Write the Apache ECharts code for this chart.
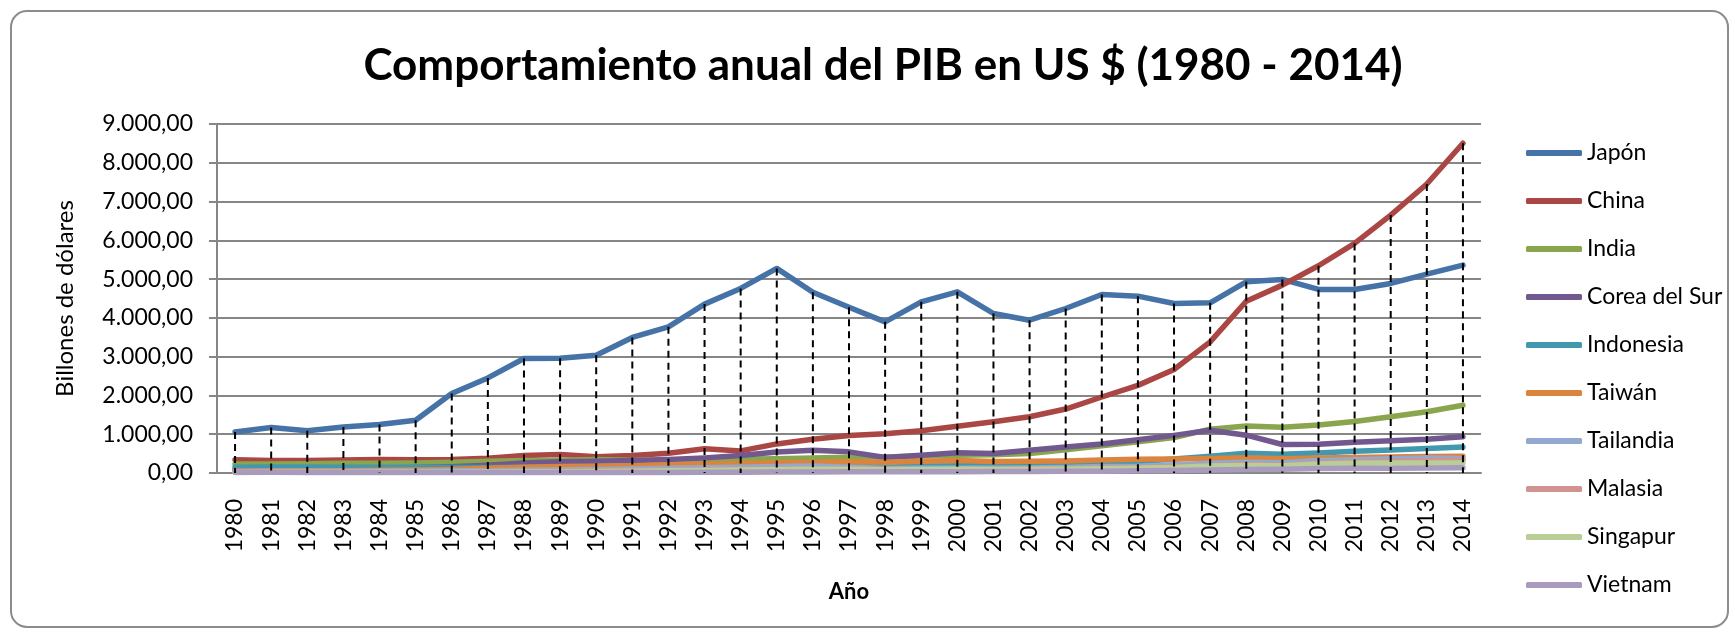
<!DOCTYPE html>
<html><head><meta charset="utf-8">
<script src="https://cdn.jsdelivr.net/npm/echarts@6/dist/echarts.min.js"></script>
<style>html,body{margin:0;padding:0;background:#fff}#c{width:1735px;height:632px}</style>
</head><body><div id="c"></div>
<script>
const years = ['1980','1981','1982','1983','1984','1985','1986','1987','1988','1989','1990','1991','1992','1993','1994','1995','1996','1997','1998','1999','2000','2001','2002','2003','2004','2005','2006','2007','2008','2009','2010','2011','2012','2013','2014'];
const japon     = [1059,1171,1090,1188,1250,1360,2050,2452,2953,2960,3038,3495,3769,4355,4760,5276,4660,4275,3898,4414,4672,4113,3941,4242,4603,4560,4371,4388,4931,4991,4733,4733,4888,5129,5361];
const china     = [340,325,320,335,345,340,345,380,450,480,420,450,510,625,570,750,870,965,1010,1090,1205,1320,1450,1650,1960,2260,2670,3380,4430,4845,5344,5921,6652,7452,8503];
const india     = [230,235,240,250,250,260,275,300,320,330,350,330,330,340,360,370,390,405,415,440,455,470,500,600,700,805,915,1130,1210,1180,1240,1330,1450,1580,1747];
const corea     = [90,100,110,120,130,140,160,200,260,290,300,320,350,390,450,540,585,545,400,460,525,505,585,670,750,860,970,1100,975,735,740,790,830,870,935];
const indonesia = [150,155,155,150,150,150,145,145,150,160,170,180,190,200,210,230,250,240,150,180,190,185,210,240,260,290,360,430,510,485,515,560,590,630,670];
const taiwan    = [50,55,55,60,70,75,90,120,150,170,175,190,215,225,245,265,280,290,275,300,320,295,300,310,335,355,360,375,395,365,385,400,415,425,435];
const tailandia = [40,42,45,48,50,52,55,60,70,80,90,105,120,135,150,170,180,150,115,125,125,120,130,145,165,175,210,250,275,265,320,340,365,385,375];
const malasia   = [30,32,33,35,38,38,35,38,42,48,55,62,70,80,90,100,105,100,75,80,95,92,100,110,125,140,160,190,220,200,250,280,300,315,330];
const singapur  = [15,18,20,22,24,23,23,25,30,35,40,48,55,65,80,90,95,98,85,88,95,90,92,98,112,125,145,180,195,190,235,250,255,260,260];
const vietnam   = [20,18,15,12,10,10,12,14,12,10,10,12,15,18,20,25,28,30,30,32,35,36,38,42,48,55,65,75,90,95,115,120,125,130,135];

const names  = ['Japón','China','India','Corea del Sur','Indonesia','Taiwán','Tailandia','Malasia','Singapur','Vietnam'];
const values = [japon,china,india,corea,indonesia,taiwan,tailandia,malasia,singapur,vietnam];
const colors = ['#4572A7','#AA4643','#89A54E','#71588F','#4198AF','#DB843D','#93A9CF','#D19392','#B9CD96','#A99BBD'];

const dropData = years.map((y,i)=>[i, Math.max(...values.map(v=>v[i]))]);

function fmt(v){
  const s = v.toFixed(2).split('.');
  return s[0].replace(/\B(?=(\d{3})+(?!\d))/g,'.') + ',' + s[1];
}

const FONT = 'Lato, "Open Sans", sans-serif';
const chart = echarts.init(document.getElementById('c'), null, {renderer:'canvas'});

const series = names.map((n,k)=>({
  name:n, type:'line', data:values[k], showSymbol:false, symbol:'none',
  lineStyle:{width:5.5, color:colors[k], cap:'round', join:'round'},
  itemStyle:{color:colors[k]}, z:2, animation:false
}));
series.push({
  type:'custom', name:'drop', data:dropData, z:5, silent:true, animation:false,
  encode:{x:0,y:1},
  renderItem:function(params, api){
    const top = api.coord([api.value(0), api.value(1)]);
    const bot = api.coord([api.value(0), 0]);
    return {type:'line', shape:{x1:top[0],y1:top[1],x2:bot[0],y2:bot[1]},
      style:{stroke:'#000', lineWidth:2, lineDash:[7,5]}};
  }
});

chart.setOption({
  animation:false,
  backgroundColor:'#fff',
  textStyle:{fontFamily:FONT},
  graphic:[
    {type:'rect', shape:{x:11,y:11,width:1717,height:616,r:16}, style:{fill:'none',stroke:'#8c8c8c',lineWidth:2}, z:-1},
    {type:'text', x:883, y:66, style:{text:'Comportamiento anual del PIB en US $ (1980 - 2014)', font:'bold 44px Lato, "Open Sans", sans-serif', fill:'#000', textAlign:'center', textVerticalAlign:'middle'}}
  ],
  grid:{left:217, right:254, top:124, bottom:159, containLabel:false},
  legend:{
    orient:'vertical', left:1521, top:136, data:names,
    icon:'roundRect', itemWidth:56, itemHeight:6, itemGap:24,
    textStyle:{fontFamily:FONT, fontSize:23, color:'#000', lineHeight:24}
  },
  xAxis:{
    type:'category', data:years, boundaryGap:true,
    name:'Año', nameLocation:'middle', nameGap:108,
    nameTextStyle:{fontFamily:FONT, fontSize:22, fontWeight:'bold', color:'#000'},
    axisLine:{lineStyle:{color:'#868686', width:2}},
    axisTick:{show:false},
    axisLabel:{rotate:90, interval:0, margin:26, fontSize:23, color:'#000', fontFamily:FONT}
  },
  yAxis:{
    type:'value', min:0, max:9000, interval:1000,
    name:'Billones de dólares', nameLocation:'middle', nameGap:140, nameRotate:90,
    nameTextStyle:{fontFamily:FONT, fontSize:24, color:'#000'},
    axisLine:{show:true, lineStyle:{color:'#868686', width:2}},
    axisTick:{show:true, length:8, lineStyle:{color:'#868686', width:2}},
    splitLine:{lineStyle:{color:'#868686', width:2}},
    axisLabel:{formatter:fmt, margin:24, fontSize:23, color:'#000', fontFamily:FONT}
  },
  series:series
});
</script></body></html>
